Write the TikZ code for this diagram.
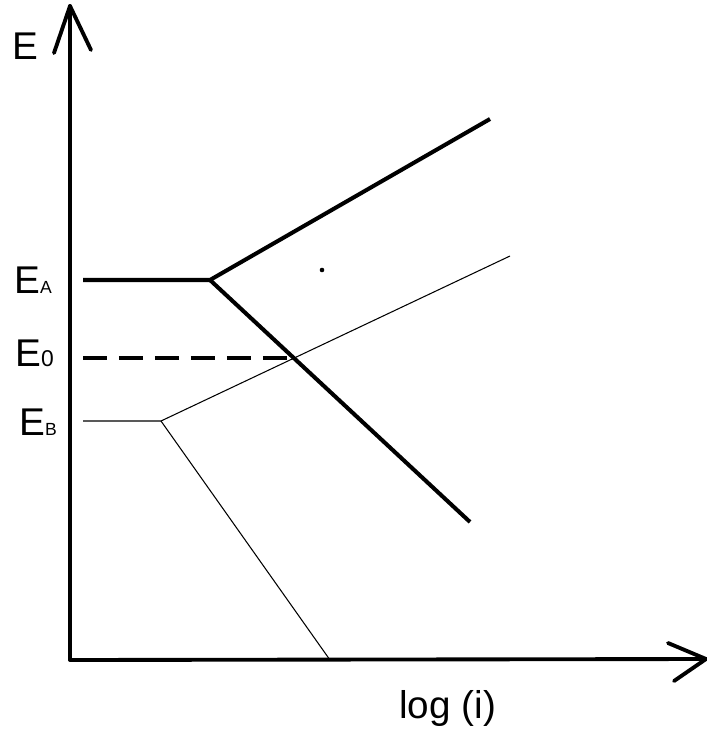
\documentclass[tikz,border=0pt]{standalone}
\usepackage{fontspec}
\setmainfont{Liberation Sans}
\usetikzlibrary{positioning}
\tikzstyle{axis} = [line width=2.2pt, black, line cap=round, line join=round]
\tikzstyle{thickline} = [line width=2.3pt, black]
\tikzstyle{thinline} = [line width=0.6pt, black]
\tikzstyle{axlabel} = [anchor=base west, inner sep=0pt, font=\fontsize{22}{26}\selectfont]

\begin{document}
\begin{tikzpicture}[x=0.02cm, y=-0.02cm]
    \useasboundingbox (0,0) rectangle (706,729);
    \coordinate (o) at (70,660);
    \coordinate (ytip) at (70,6);
    \coordinate (yl) at (54,53);
    \coordinate (yr) at (91,50);
    \coordinate (xtip) at (706,659);
    \coordinate (xu) at (668,643);
    \coordinate (xd) at (674,681);

    \draw [axis] (o) -- (ytip);
    \draw [axis] (o) -- (xtip);
    \draw [axis] (yl) -- (ytip) -- (yr);
    \draw [axis] (xu) -- (xtip) -- (xd);

    % upper curve
    \coordinate (a0) at (83,280);
    \coordinate (ka) at (210,280);
    \coordinate (a1) at (490,119);
    \coordinate (a2) at (470,522);
    \draw [thickline] (a0) -- (ka) -- (a1);
    \draw [thickline] (ka) -- (a2);

    % lower curve
    \coordinate (b0) at (83,421);
    \coordinate (kb) at (161,421);
    \coordinate (b1) at (510,256);
    \coordinate (b2) at (330,660);
    \draw [thinline] (b0) -- (kb) -- (b1);
    \draw [thinline] (kb) -- (b2);

    \coordinate (e0) at (83,358);
    \coordinate (x0) at (292,358);
    \draw [thickline, dash pattern=on 0.48cm off 0.24cm] (e0) -- (x0);

    \fill (322,270) circle (1.3pt);

    \node [axlabel] (ey) at (12,60) {E};
    \node [axlabel] (ea) at (14,293) {E{\fontsize{10}{11}\selectfont A}};
    \node [axlabel] (ez) at (15,366) {E{\fontsize{13}{14}\selectfont 0}};
    \node [axlabel] (eb) at (19,435) {E{\fontsize{10}{11}\selectfont B}};
    \node [axlabel] (xlab) at (399,718) {log (i)};
\end{tikzpicture}
\end{document}
